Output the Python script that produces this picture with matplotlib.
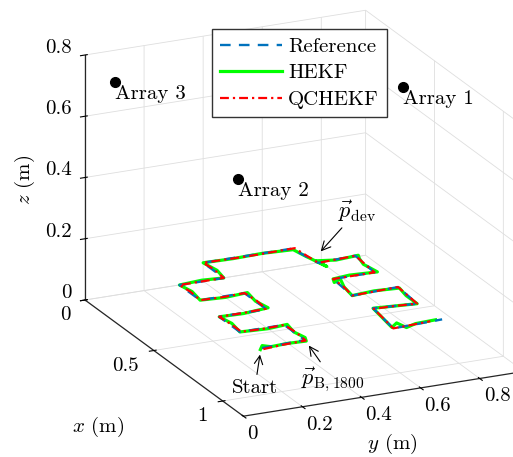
import numpy as np
import matplotlib
matplotlib.use('Agg')
import matplotlib.pyplot as plt
from mpl_toolkits.mplot3d import proj3d

plt.rcParams['font.family'] = 'cmr10'
plt.rcParams['mathtext.fontset'] = 'cm'
plt.rcParams['axes.unicode_minus'] = False
plt.rcParams['axes.formatter.use_mathtext'] = True
plt.rcParams['grid.color'] = '0.87'
plt.rcParams['grid.linewidth'] = 0.6

# reference trajectory (m)
ref_x = [0.77, 0.76, 0.61, 0.61, 0.46, 0.46, 0.30, 0.30, 0.15, 0.15, 0.00,
         0.00, 0.15, 0.14, 0.30, 0.30, 0.46, 0.45, 0.61, 0.59, 0.78, 0.77]
ref_y = [0.24, 0.39, 0.39, 0.24, 0.24, 0.40, 0.40, 0.25, 0.25, 0.40, 0.40,
         0.70, 0.72, 0.85, 0.84, 0.70, 0.69, 0.85, 0.84, 0.70, 0.68, 0.85]

# HEKF estimate
hekf_x = [0.78, 0.75, 0.77, 0.765, 0.77, 0.74, 0.68, 0.61, 0.62, 0.61, 0.53,
          0.46, 0.465, 0.45, 0.38, 0.30, 0.31, 0.30, 0.22, 0.15, 0.14, 0.15,
          0.08, 0.00, 0.005, 0.00, 0.01, 0.08, 0.19, 0.13, 0.15, 0.14, 0.17,
          0.22, 0.30, 0.29, 0.30, 0.33, 0.31, 0.38, 0.46, 0.45, 0.46, 0.53,
          0.61, 0.60, 0.59, 0.68, 0.77, 0.74, 0.79, 0.77, 0.765]
hekf_y = [0.23, 0.25, 0.27, 0.33, 0.39, 0.40, 0.39, 0.40, 0.33, 0.24, 0.25,
          0.24, 0.32, 0.41, 0.40, 0.41, 0.33, 0.25, 0.26, 0.25, 0.33, 0.40,
          0.41, 0.40, 0.50, 0.60, 0.70, 0.71, 0.73, 0.72, 0.78, 0.86, 0.85,
          0.84, 0.85, 0.76, 0.70, 0.69, 0.72, 0.70, 0.69, 0.77, 0.85, 0.84,
          0.84, 0.77, 0.70, 0.69, 0.68, 0.71, 0.72, 0.76, 0.83]

# QCHEKF estimate
qc_x = [0.78, 0.77, 0.765, 0.69, 0.61, 0.615, 0.61, 0.54, 0.46, 0.46, 0.455,
        0.38, 0.30, 0.305, 0.30, 0.22, 0.15, 0.15, 0.15, 0.07, 0.00, 0.005,
        0.00, 0.08, 0.15, 0.145, 0.14, 0.22, 0.30, 0.30, 0.30, 0.38, 0.46,
        0.455, 0.45, 0.53, 0.61, 0.60, 0.595, 0.69, 0.78, 0.775, 0.77]
qc_y = [0.24, 0.31, 0.39, 0.395, 0.39, 0.31, 0.245, 0.245, 0.24, 0.32, 0.40,
        0.405, 0.40, 0.32, 0.25, 0.255, 0.25, 0.33, 0.40, 0.405, 0.40, 0.55,
        0.71, 0.715, 0.72, 0.79, 0.85, 0.845, 0.84, 0.77, 0.70, 0.70, 0.69,
        0.77, 0.85, 0.845, 0.84, 0.77, 0.70, 0.69, 0.68, 0.75, 0.81]

path_z = 0.06

# receiver arrays
array_names = ['Array 1', 'Array 2', 'Array 3']
array_x = [0.42, 0.21, 0.00]
array_y = [0.88, 0.42, 0.10]
array_z = [0.70, 0.40, 0.695]

FS = 15

fig = plt.figure(figsize=(5.13, 4.57), dpi=100)
W, H = 513, 457
S0 = 400
ax = fig.add_axes([0.1, 0.05, S0 / W, S0 / H], projection='3d',
                  proj_type='ortho')
ax.computed_zorder = False

ax.plot(hekf_x, hekf_y, np.full(len(hekf_x), path_z), color=(0, 1, 0),
        lw=2.3, label='HEKF', zorder=2)
ax.plot(ref_x, ref_y, np.full(len(ref_x), path_z), color='#0072BD',
        lw=1.7, ls=(0, (4.5, 3.5)), label='Reference', zorder=3)
ax.plot(qc_x, qc_y, np.full(len(qc_x), path_z), color='red',
        lw=1.6, ls=(0, (4, 1.8, 1, 1.8)), label='QCHEKF', zorder=4)
ax.plot(array_x, array_y, array_z, 'o', color='k', ms=7, ls='none', zorder=5)

ax.set_xlim(0, 1.15)
ax.set_ylim(0, 0.95)
ax.set_zlim(0, 0.8)
ax.set_xticks([0, 0.5, 1])
ax.set_xticklabels(['0', '0.5', '1'])
ax.set_yticks([0, 0.2, 0.4, 0.6, 0.8])
ax.set_yticklabels(['0', '0.2', '0.4', '0.6', '0.8'])
ax.set_zticks([0, 0.2, 0.4, 0.6, 0.8])
ax.set_zticklabels(['0', '0.2', '0.4', '0.6', '0.8'])
ax.set_box_aspect((1.15, 0.95, 0.8))
ax.view_init(elev=20, azim=-25)
ax.tick_params(labelsize=FS)
ax.tick_params(axis='x', pad=2.5)
ax.tick_params(axis='y', pad=-3)
ax.tick_params(axis='z', pad=-2)

# MATLAB-like tick label alignment
for t in ax.xaxis.get_major_ticks():
    t.label1.set_ha('right')
    t.label1.set_va('center')
for t in ax.yaxis.get_major_ticks():
    t.label1.set_ha('left')
for t in ax.zaxis.get_major_ticks():
    t.label1.set_ha('right')
    t.label1.set_va('baseline')

for axis in (ax.xaxis, ax.yaxis, ax.zaxis):
    axis.set_pane_color((1, 1, 1, 0))
    axis.pane.set_edgecolor('0.85')
    axis.line.set_color('0.15')
    axis.line.set_linewidth(0.9)


def proj2d(x, y, z):
    xs, ys, _ = proj3d.proj_transform(x, y, z, ax.get_proj())
    return xs, ys


# put the z axis on the left vertical edge
left_x = proj2d(0, 0, 0)[0]
for pos in ('lower', 'upper'):
    ax.zaxis.set_ticks_position(pos)
    fig.canvas.draw()
    if abs(ax.zaxis.line.get_xdata()[0] - left_x) < 1e-3:
        break


def to_pix(x, y, z):
    return ax.transData.transform(proj2d(x, y, z))


# fit the box to the target frame
p0 = to_pix(0, 0, 0)
p1 = to_pix(0, 0, 0.8)
k = 245.0 / (p1[1] - p0[1])
bb = ax.get_position()
c0 = np.array([(bb.x0 + bb.width / 2) * W, (bb.y0 + bb.height / 2) * H])
target = np.array([85.0, H - 300.0])
c1 = target - (p0 - c0) * k
S1 = S0 * k
ax.set_position([(c1[0] - S1 / 2) / W, (c1[1] - S1 / 2) / H, S1 / W, S1 / H])

for name, x, y, z in zip(array_names, array_x, array_y, array_z):
    ax.annotate(name, xy=proj2d(x, y, z), xytext=(0, -3),
                textcoords='offset pixels', ha='left', va='top', fontsize=FS)

arrow = dict(arrowstyle='->', lw=0.8, color='k', shrinkA=1, shrinkB=0)
ax.annotate('Start', xy=proj2d(0.82, 0.21, path_z), xytext=(-5, -33),
            textcoords='offset pixels', ha='center', va='center',
            fontsize=FS, arrowprops=arrow)
ax.annotate(r'$\vec{p}_{\mathrm{B},1800}$', xy=proj2d(0.81, 0.38, path_z),
            xytext=(24, -34), textcoords='offset pixels', ha='center',
            va='center', fontsize=FS + 1, arrowprops=arrow)
ax.annotate(r'$\vec{p}_{\mathrm{dev}}$', xy=proj2d(0.06, 0.77, path_z),
            xytext=(36, 40), textcoords='offset pixels', ha='center',
            va='center', fontsize=FS + 1, arrowprops=arrow)

fig.text(98 / W, 1 - 427 / H, r'$x$ (m)', ha='center', va='center', fontsize=FS)
fig.text(392 / W, 1 - 444 / H, r'$y$ (m)', ha='center', va='center', fontsize=FS)
fig.text(25 / W, 1 - 180 / H, r'$z$ (m)', ha='center', va='center',
         fontsize=FS, rotation=90)

handles, labels = ax.get_legend_handles_labels()
order = [labels.index(n) for n in ['Reference', 'HEKF', 'QCHEKF']]
fig.legend([handles[i] for i in order], [labels[i] for i in order],
           loc='upper left', bbox_to_anchor=(211.7 / W, 1 - 29.3 / H),
           fontsize=FS, fancybox=False, edgecolor='0.2', framealpha=1,
           handlelength=3.0, labelspacing=0.38, borderpad=0.38,
           handletextpad=0.3, borderaxespad=0)

fig.savefig('out.png', dpi=100)
